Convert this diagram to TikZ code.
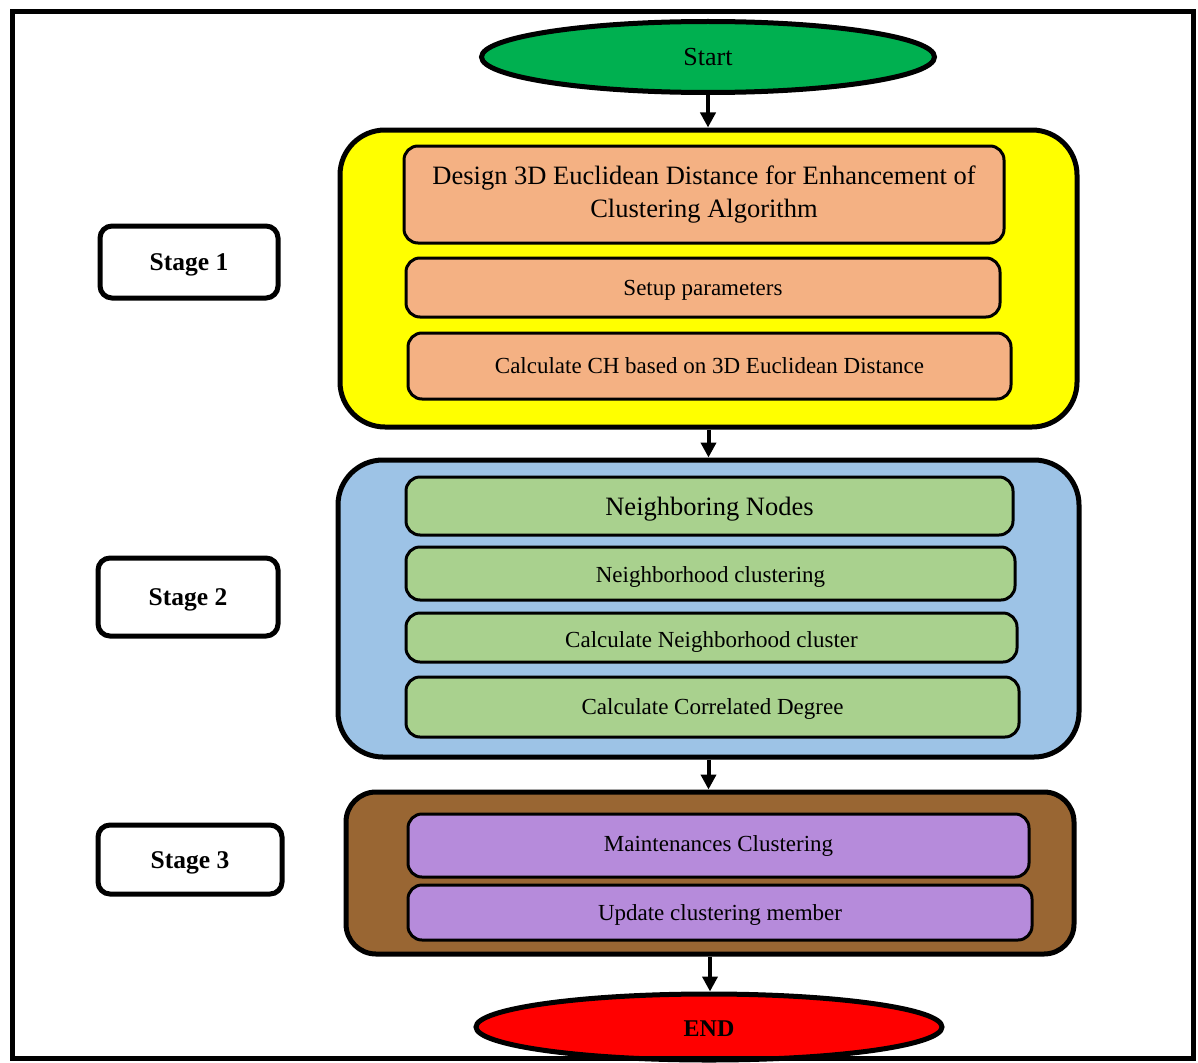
\documentclass[tikz,border=0pt]{standalone}
\usepackage{fontspec}
\setmainfont{Liberation Serif}
\usetikzlibrary{shapes.geometric,arrows.meta}
\definecolor{startgreen}{HTML}{00B050}
\definecolor{stageyellow}{HTML}{FFFF00}
\definecolor{boxorange}{HTML}{F4B183}
\definecolor{stageblue}{HTML}{9DC3E6}
\definecolor{boxgreen}{HTML}{A9D18E}
\definecolor{stagebrown}{HTML}{996633}
\definecolor{boxpurple}{HTML}{B68BDB}
\definecolor{endred}{HTML}{FF0000}
\newcommand{\lowr}[2]{\raisebox{-#1}[\height][\depth]{#2}}
\begin{document}
\begin{tikzpicture}[x=1pt,y=-1pt,
  container/.style={draw, line width=5pt, rounded corners=45pt, inner sep=0pt},
  innerbox/.style={draw, line width=3pt, rounded corners=14pt, inner sep=0pt, align=center, font=\fontsize{23}{28}\selectfont},
  stagebox/.style={draw, line width=5pt, rounded corners=12pt, fill=white, inner sep=0pt, font=\bfseries\fontsize{25.5}{30}\selectfont},
  term/.style={ellipse, draw, line width=5pt, inner sep=0pt},
  flow/.style={line width=4pt, -{Triangle[width=15pt,length=15pt]}}]

\useasboundingbox (0,0) rectangle (1198,1062);
\fill[white] (0,0) rectangle (1198,1062);

% terminals
\node[term, fill=startgreen, minimum width=453pt, minimum height=71pt, font=\fontsize{26}{30}\selectfont] (start) at (708,57) {Start};

% stage 1
\node[container, fill=stageyellow, minimum width=737pt, minimum height=297pt] (s1) at (708.5,278.5) {};
\node[innerbox, fill=boxorange, minimum width=600pt, minimum height=97pt, font=\fontsize{26.5}{33}\selectfont] (d1) at (704,194.5) {Design 3D Euclidean Distance for Enhancement of\\Clustering Algorithm};
\node[innerbox, fill=boxorange, minimum width=594pt, minimum height=59pt] (d2) at (703,287.5) {\lowr{3pt}{Setup parameters}};
\node[innerbox, fill=boxorange, minimum width=603pt, minimum height=66pt] (d3) at (709.5,366) {Calculate CH based on 3D Euclidean Distance};

% stage 2
\node[container, fill=stageblue, minimum width=741pt, minimum height=297pt] (s2) at (708.5,608.5) {};
\node[innerbox, fill=boxgreen, minimum width=607pt, minimum height=58pt, font=\fontsize{26.5}{30}\selectfont] (n1) at (709.5,506) {\lowr{3pt}{Neighboring Nodes}};
\node[innerbox, fill=boxgreen, minimum width=609pt, minimum height=53pt] (n2) at (710.5,573.5) {\lowr{3pt}{Neighborhood clustering}};
\node[innerbox, fill=boxgreen, minimum width=611pt, minimum height=49pt] (n3) at (711.5,637.5) {};
\node[font=\fontsize{23}{28}\selectfont] (n3t) at (711.5,642) {Calculate Neighborhood cluster};
\node[innerbox, fill=boxgreen, minimum width=613pt, minimum height=60pt] (n4) at (712.5,707) {\lowr{2pt}{Calculate Correlated Degree}};

% stage 3
\node[container, rounded corners=30pt, fill=stagebrown, minimum width=728pt, minimum height=162pt] (s3) at (710,873) {};
\node[innerbox, fill=boxpurple, minimum width=621pt, minimum height=63pt] (m1) at (718.5,845.5) {Maintenances Clustering};
\node[innerbox, fill=boxpurple, minimum width=624pt, minimum height=55pt] (m2) at (720,912.5) {\lowr{2pt}{Update clustering member}};

\node[term, fill=endred, minimum width=466pt, minimum height=66pt, font=\bfseries\fontsize{24}{28}\selectfont] (end) at (709,1027) {\lowr{2pt}{END}};

% stage labels
\node[stagebox, minimum width=178pt, minimum height=72pt] (st1) at (189,262) {\lowr{3pt}{Stage 1}};
\node[stagebox, minimum width=180pt, minimum height=78pt] (st2) at (188,597) {\lowr{3pt}{Stage 2}};
\node[stagebox, minimum width=184pt, minimum height=69pt] (st3) at (190,859.5) {\lowr{3pt}{Stage 3}};

% connectors
\draw[flow] (start.south) -- (start.south |- s1.north);
\draw[flow] (s1.south) -- (s1.south |- s2.north);
\draw[flow] (s2.south) -- (s2.south |- s3.north);
\draw[flow] (s3.south) -- (s3.south |- end.north);

% frame
\draw[line width=5pt] (12,12) rectangle (1193,1058);
\end{tikzpicture}
\end{document}
